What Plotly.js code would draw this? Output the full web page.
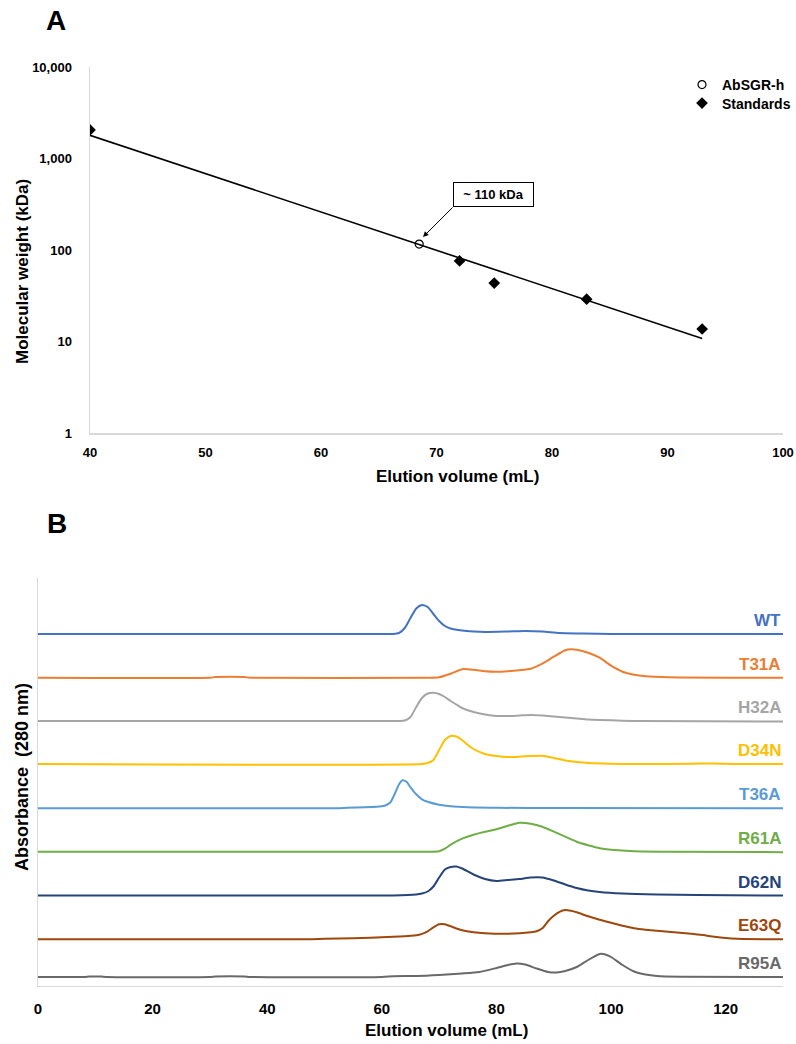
<!DOCTYPE html>
<html>
<head>
<meta charset="utf-8">
<script src="https://cdn.plot.ly/plotly-3.0.1.min.js"></script>
<style>html,body{margin:0;padding:0;background:#fff;}#chart{width:796px;height:1044px;}</style>
</head>
<body>
<div id="chart"></div>
<script>
// ---------- Panel A data ----------
const stdVolume = [40, 72, 75, 83, 93];
const stdMW = [2050, 76, 43.5, 29, 13.7];
const sampleVolume = [68.5];
const sampleMW = [116];
const trendVolume = [40, 93];
const trendMW = [1790, 10.8];
const aTicksX = [40, 50, 60, 70, 80, 90, 100];
const aTicksY = [1, 10, 100, 1000, 10000];
const aTickTextY = ['1', '10', '100', '1,000', '10,000'];

// ---------- Panel B data (absorbance above each baseline) ----------
const seriesNames = ['WT', 'T31A', 'H32A', 'D34N', 'T36A', 'R61A', 'D62N', 'E63Q', 'R95A'];
const traceOffsets = [351.7, 308, 264.7, 221.7, 177.4, 134, 90.2, 46.4, 8.7];
const seriesColors = ['#4472C4', '#ED7D31', '#A5A5A5', '#FFC000', '#5B9BD5', '#70AD47', '#264478', '#9E480E', '#696969'];

const wtX = [0, 60, 62, 63, 64, 65, 66, 67, 68, 69, 70, 71, 72, 74, 76, 78, 82, 85, 88, 91, 95, 100, 130];
const wtY = [0, 0, 0, 1, 6, 16, 25.5, 29, 27, 20, 13, 8, 5.5, 3.5, 2.5, 2, 2.5, 3, 2.5, 1, 0.5, 0, 0];

const t31aX = [0, 30, 31, 36, 37, 68, 70, 72, 74, 76, 78, 80, 82, 84, 86, 88, 90, 92, 93, 94, 96, 98, 100, 102, 104, 106, 110, 130];
const t31aY = [0, 0, 0.6, 0.6, 0, 0, 0.5, 4, 8.5, 8, 6.5, 6, 6.5, 7.5, 9, 14, 21, 27.5, 28.5, 28, 25, 20, 12, 6, 3, 1.5, 0.5, 0];

const h32aX = [0, 63, 64, 65, 66, 67, 68, 69, 70, 71, 72, 73, 74, 76, 78, 80, 82, 84, 86, 88, 90, 92, 94, 96, 98, 102, 105, 130];
const h32aY = [0, 0, 0.5, 4, 14, 23, 27.5, 28.3, 27, 24, 20, 16.5, 13, 9, 6.5, 5, 5, 5.5, 6, 5.5, 4.5, 3.5, 2.5, 1.5, 1, 0.3, 0, -0.5];

const d34nX = [0, 67, 68, 69, 70, 71, 72, 73, 74, 75, 76, 78, 80, 82, 84, 86, 88, 90, 92, 94, 96, 100, 104, 114, 118, 122, 130];
const d34nY = [0, 0, 1, 4, 14, 24, 28, 27.5, 24, 19, 15, 10, 8, 7, 7.3, 8, 8.3, 6, 3.5, 2, 1, 0.3, 0, 0.3, 0.6, 0, 0];

const t36aX = [0, 52, 54, 57, 59.5, 60.5, 61.5, 62.3, 63, 63.6, 64.3, 65, 66, 67, 68, 70, 72, 75, 80, 90, 130];
const t36aY = [0, 0, 0.5, 1, 1.8, 2.5, 6, 15, 24, 28, 26.5, 21, 14, 9, 6.5, 3.5, 2, 1, 0.5, 0.2, 0];

const r61aX = [0, 68, 70, 71, 72, 74, 76, 78, 80, 82, 84, 86, 88, 90, 92, 94, 96, 98, 100, 104, 110, 130];
const r61aY = [0, 0, 0.5, 3, 7, 13, 17, 20, 22.5, 26, 29, 28, 25, 20, 15, 10, 6.5, 3.5, 2, 0.5, 0, -0.5];

const d62nX = [0, 62, 66, 67, 68, 69, 70, 71, 72, 73, 74, 76, 78, 80, 82, 84, 86, 88, 90, 92, 94, 96, 98, 102, 108, 115, 130];
const d62nY = [0, 0, 1, 2, 4, 9, 18, 26, 28.5, 29, 27, 21, 16.5, 14.5, 15.5, 16.5, 18, 18, 15, 11, 7.5, 5, 3.5, 2, 1, 0.5, 0];

const e63qX = [0, 47, 50, 55, 58, 62, 65, 66.5, 68, 69, 70, 71, 72, 74, 76, 78, 82, 86, 87, 88, 89, 90, 91, 92, 93, 94, 96, 98, 100, 102, 104, 106, 108, 110, 112, 114, 116, 118, 120, 122, 130];
const e63qY = [0, 0, 0.5, 1, 1.5, 2.5, 3.5, 4.5, 8, 12, 15, 15, 13, 9, 7, 6, 5.5, 7, 8, 11, 18, 23.5, 27.5, 29.3, 28.5, 27, 23, 19.5, 16.5, 13.5, 11, 9.5, 8.5, 7.5, 6.5, 5.5, 4.2, 2.5, 1.2, 0.5, 0];

const r95aX = [0, 8, 9, 11, 12, 30, 31, 36, 37, 60, 62, 66, 70, 74, 77, 80, 82, 83.5, 85, 87, 89, 90.5, 92, 94, 96, 98, 99, 100, 102, 104, 106, 108, 112, 130];
const r95aY = [0, 0, 0.5, 0.5, 0, 0, 0.5, 0.5, 0, 0, 0.8, 1, 2, 3.5, 5, 9, 12, 13.5, 12.5, 8.5, 5, 4.5, 6, 10, 17, 23, 22.5, 20, 12, 5.5, 2.5, 1, 0.3, 0];

const bTicksX = [0, 20, 40, 60, 80, 100, 120];

const seriesX = [wtX, t31aX, h32aX, d34nX, t36aX, r61aX, d62nX, e63qX, r95aX];
const seriesY = [wtY, t31aY, h32aY, d34nY, t36aY, r61aY, d62nY, e63qY, r95aY];

// ---------- build ----------
const FONT = 'Liberation Sans, Arial, Helvetica, sans-serif';
const W = 796, H = 1044;
const px = v => v / W;
const py = v => 1 - v / H;
const bold = (size, color) => ({family: FONT, size: size, color: color || '#000', weight: 'bold'});

const traces = [];
traces.push({
  x: trendVolume, y: trendMW, xaxis: 'x', yaxis: 'y', mode: 'lines',
  line: {color: '#000', width: 1.6}, showlegend: false, hoverinfo: 'skip'
});
traces.push({
  x: sampleVolume, y: sampleMW, xaxis: 'x', yaxis: 'y', mode: 'markers', name: 'AbSGR-h',
  legend: 'legend',
  marker: {symbol: 'circle-open', size: 8, color: '#000', line: {width: 1.2, color: '#000'}}
});
traces.push({
  x: stdVolume, y: stdMW, xaxis: 'x', yaxis: 'y', mode: 'markers', name: 'Standards',
  legend: 'legend2',
  marker: {symbol: 'diamond', size: 9, color: '#000'}
});

const annotations = [];
seriesNames.forEach((name, i) => {
  traces.push({
    x: seriesX[i], y: seriesY[i].map(v => v + traceOffsets[i]),
    xaxis: 'x2', yaxis: 'y2', mode: 'lines', name: name, showlegend: false,
    line: {color: seriesColors[i], width: 2, shape: 'spline', smoothing: 0.6}
  });
  annotations.push({
    xref: 'x2', yref: 'y2', x: 130, y: traceOffsets[i] + 13.5,
    xanchor: 'right', yanchor: 'middle', showarrow: false, text: name,
    font: bold(17, seriesColors[i])
  });
});

annotations.push(
  {xref: 'paper', yref: 'paper', x: px(56), y: py(20), text: '<b>A</b>', showarrow: false,
   xanchor: 'center', yanchor: 'middle', font: bold(28)},
  {xref: 'paper', yref: 'paper', x: px(57), y: py(523), text: '<b>B</b>', showarrow: false,
   xanchor: 'center', yanchor: 'middle', font: bold(28)},
  {xref: 'paper', yref: 'paper', x: px(22), y: py(272), text: '<b>Molecular weight (kDa)</b>', textangle: -90,
   showarrow: false, xanchor: 'center', yanchor: 'middle', font: bold(17)},
  {xref: 'paper', yref: 'paper', x: px(457.7), y: py(476.5), text: '<b>Elution volume (mL)</b>',
   showarrow: false, xanchor: 'center', yanchor: 'middle', font: bold(17)},
  {xref: 'paper', yref: 'paper', x: px(446), y: py(1030), text: '<b>Elution volume (mL)</b>',
   showarrow: false, xanchor: 'center', yanchor: 'middle', font: bold(17)},
  {xref: 'paper', yref: 'paper', x: px(22), y: py(777), text: '<b>Absorbance\u00a0 (280 nm)</b>', textangle: -90,
   showarrow: false, xanchor: 'center', yanchor: 'middle', font: bold(18)},
  // label box
  {xref: 'x', yref: 'y', x: 74.93, y: Math.log10(404), text: '<b>~ 110 kDa</b>', showarrow: false,
   xanchor: 'center', yanchor: 'middle', font: bold(13), bordercolor: '#000', borderwidth: 1,
   bgcolor: '#fff', width: 77, height: 21, borderpad: 1},
  // arrow
  {xref: 'x', yref: 'y', x: 68.83, y: Math.log10(138.6), text: '', showarrow: true,
   ax: 31, ay: -31, arrowhead: 2, arrowsize: 1.1, arrowwidth: 1, arrowcolor: '#000'}
);

const gridless = {showgrid: false, zeroline: false, showline: true, linecolor: '#d9d9d9', linewidth: 1.5, ticks: ''};
const legendBase = {xanchor: 'right', yanchor: 'top', bgcolor: 'rgba(0,0,0,0)', font: bold(14), itemwidth: 30, borderwidth: 0};

const layout = {
  width: W, height: H,
  margin: {l: 0, r: 0, t: 0, b: 0, pad: 0},
  paper_bgcolor: '#fff', plot_bgcolor: '#fff',
  font: {family: FONT, color: '#000'},
  showlegend: true,
  legend: Object.assign({}, legendBase, {x: 1 - 6 / W, y: py(69)}),
  legend2: Object.assign({}, legendBase, {x: 1, y: py(87.5)}),
  xaxis: Object.assign({}, gridless, {
    domain: [px(90), px(783)], range: [40, 100], anchor: 'y',
    tickvals: aTicksX, tickfont: bold(13), ticklabelstandoff: 7
  }),
  yaxis: Object.assign({}, gridless, {
    domain: [py(433), py(67)], type: 'log', range: [0, 4], anchor: 'x',
    tickvals: aTicksY, ticktext: aTickTextY, tickfont: bold(13), ticklabelstandoff: 14
  }),
  xaxis2: Object.assign({}, gridless, {
    domain: [px(38), px(783)], range: [0, 130], anchor: 'y2',
    tickvals: bTicksX, tickfont: bold(15), ticklabelstandoff: 9
  }),
  yaxis2: Object.assign({}, gridless, {
    domain: [py(985.7), py(578)], range: [0, 407.7], anchor: 'x2',
    showticklabels: false
  }),
  annotations: annotations
};

Plotly.newPlot('chart', traces, layout, {staticPlot: true, displayModeBar: false});
</script>
</body>
</html>
